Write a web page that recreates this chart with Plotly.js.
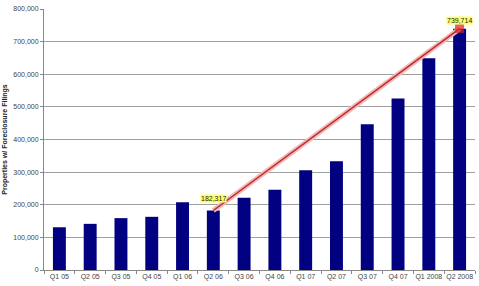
<!DOCTYPE html>
<html><head><meta charset="utf-8">
<script src="https://cdn.plot.ly/plotly-3.0.1.min.js"></script>
<style>html,body{margin:0;padding:0;background:#fff}#c{width:479px;height:286px}</style>
</head><body><div id="c"></div>
<script>
const quarters = ['Q1 05','Q2 05','Q3 05','Q4 05','Q1 06','Q2 06','Q3 06','Q4 06','Q1 07','Q2 07','Q3 07','Q4 07','Q1 2008','Q2 2008'];
const filings = [131000,141500,159000,163000,208000,182317,221500,246000,305500,333000,447000,526000,649000,739714];
const trendX = ['Q2 06','Q2 2008'];
const trendY = [182317,739714];
const trendLabels = ['182,317','739,714'];

const f = 'Liberation Sans, Arial, sans-serif';
const data = [
  {type:'bar', x:quarters, y:filings, marker:{color:'#000080'}, hoverinfo:'skip'},
  {type:'scatter', mode:'lines', x:trendX, y:trendY, line:{color:'#f2b8b8', width:5}, hoverinfo:'skip'},
  {type:'scatter', mode:'lines+markers', x:trendX, y:trendY, line:{color:'#c0282a', width:1.5},
   marker:{symbol:'square', size:[0,8], color:'#e0201c'}, hoverinfo:'skip'}
];
const layout = {
  width:479, height:286, showlegend:false,
  margin:{l:44, r:4, t:9, b:16},
  paper_bgcolor:'#fff', plot_bgcolor:'#fff',
  bargap:0.58,
  font:{family:f, size:7, color:'#555'},
  xaxis:{type:'category', range:[-0.5, quarters.length-0.5], showgrid:false, ticks:'outside', ticklen:3, tickcolor:'#888', tickangle:0,
         tickson:'boundaries', showline:true, linecolor:'#888', linewidth:1, automargin:false,
         tickfont:{family:f, size:7, color:'#444'}, fixedrange:true},
  yaxis:{range:[0,800000], dtick:100000, tickformat:',d', showgrid:true, gridcolor:'#a0a0a0', gridwidth:1,
         showline:true, linecolor:'#888', ticks:'outside', ticklen:3, tickcolor:'#888',
         zeroline:false, tickfont:{family:f, size:7, color:'#444'}, automargin:false,
         title:{text:'<b>Properties w/ Foreclosure Filings</b>', font:{family:f, size:7, color:'#222'}, standoff:4},
         fixedrange:true},
  annotations:[
    {x:trendX[0], y:trendY[0], text:trendLabels[0], showarrow:false, xanchor:'center', yanchor:'bottom',
     xshift:0, yshift:8, bgcolor:'#ffff66', font:{family:f, size:7, color:'#222'}, borderpad:0},
    {x:trendX[1], y:trendY[1], text:trendLabels[1], showarrow:false, xanchor:'center', yanchor:'bottom',
     xshift:0, yshift:4, bgcolor:'#ffff66', font:{family:f, size:7, color:'#222'}, borderpad:0}
  ]
};
Plotly.newPlot('c', data, layout, {staticPlot:true, displayModeBar:false});
</script>
</body></html>
